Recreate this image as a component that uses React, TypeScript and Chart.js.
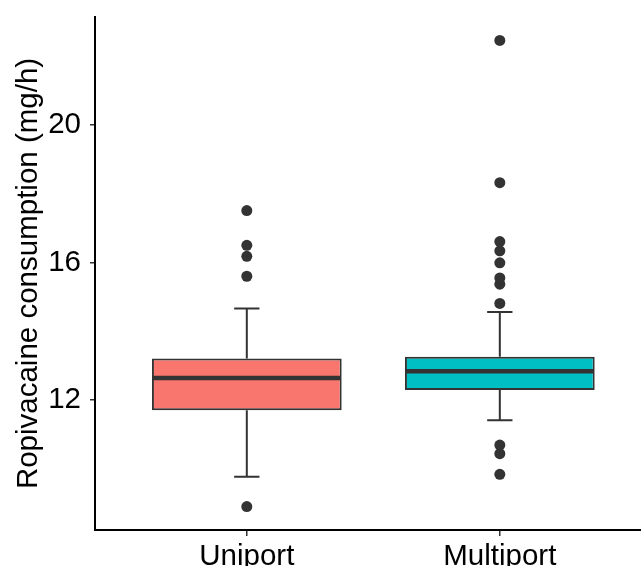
import React, { useEffect, useRef } from 'react';
import { Chart, registerables } from 'chart.js';

Chart.register(...registerables);

const categories = ['Uniport', 'Multiport'];
const positions = [1, 2];
const q1 = [11.70, 12.29];
const medians = [12.64, 12.84];
const q3 = [13.21, 13.26];
const whiskerLow = [9.77, 11.41];
const whiskerHigh = [14.66, 14.56];
const outliersUniport = [8.90, 15.60, 16.18, 16.50, 17.51];
const outliersMultiport = [9.84, 10.44, 10.69, 14.81, 15.37, 15.55, 15.99, 16.34, 16.61, 18.32, 22.46];
const yTicks = [12, 16, 20];
const fills = ['#F8766D', '#00BFC4'];
const yMin = 8.22;
const yMax = 23.14;
const xMin = 0.4;
const xMax = 2.558;

const FONT = "'Liberation Sans', Arial, sans-serif";
const INK = '#333333';

const boxPlugin = {
  id: 'boxParts',
  beforeDatasetsDraw(chart: any) {
    const { ctx, scales } = chart;
    const xs = scales.x;
    const ys = scales.y;
    ctx.save();
    ctx.strokeStyle = INK;
    ctx.lineWidth = 2;
    positions.forEach((p, i) => {
      const x = xs.getPixelForValue(p);
      const xl = xs.getPixelForValue(p - 0.05);
      const xr = xs.getPixelForValue(p + 0.05);
      const yHi = ys.getPixelForValue(whiskerHigh[i]);
      const yLo = ys.getPixelForValue(whiskerLow[i]);
      ctx.beginPath();
      ctx.moveTo(x, ys.getPixelForValue(q3[i]));
      ctx.lineTo(x, yHi);
      ctx.moveTo(xl, yHi);
      ctx.lineTo(xr, yHi);
      ctx.moveTo(x, ys.getPixelForValue(q1[i]));
      ctx.lineTo(x, yLo);
      ctx.moveTo(xl, yLo);
      ctx.lineTo(xr, yLo);
      ctx.stroke();
    });
    ctx.restore();
  },
  afterDatasetDraw(chart: any, args: any) {
    if (args.index !== 0) return;
    const { ctx, scales } = chart;
    const ys = scales.y;
    const meta = chart.getDatasetMeta(0);
    ctx.save();
    ctx.strokeStyle = INK;
    ctx.lineWidth = 4.5;
    meta.data.forEach((bar: any, i: number) => {
      const y = ys.getPixelForValue(medians[i]);
      ctx.beginPath();
      ctx.moveTo(bar.x - bar.width / 2 + 1, y);
      ctx.lineTo(bar.x + bar.width / 2 - 1, y);
      ctx.stroke();
    });
    ctx.restore();
  },
};

export default function App() {
  const ref = useRef<HTMLCanvasElement>(null);
  useEffect(() => {
    if (!ref.current) return;
    const chart = new Chart(ref.current, {
      type: 'bar',
      data: {
        datasets: [
          {
            type: 'bar',
            data: positions.map((p, i) => ({ x: p, y: [q1[i], q3[i]] })) as any,
            backgroundColor: fills,
            borderColor: INK,
            borderWidth: 2,
            borderSkipped: false,
            barPercentage: 0.75,
            categoryPercentage: 1,
          } as any,
          {
            type: 'scatter',
            data: [
              ...outliersUniport.map((v) => ({ x: positions[0], y: v })),
              ...outliersMultiport.map((v) => ({ x: positions[1], y: v })),
            ],
            backgroundColor: INK,
            borderColor: INK,
            borderWidth: 0,
            pointRadius: 5.5,
          } as any,
        ],
      },
      options: {
        animation: false,
        responsive: false,
        devicePixelRatio: 1,
        layout: { autoPadding: false, padding: { top: 17, right: 0, bottom: 0, left: 0 } },
        plugins: { legend: { display: false }, tooltip: { enabled: false } },
        scales: {
          x: {
            type: 'linear',
            offset: false,
            min: xMin,
            max: xMax,
            afterBuildTicks: (s: any) => {
              s.ticks = positions.map((v) => ({ value: v }));
            },
            afterFit: (s: any) => {
              s.height = 36;
              s.paddingLeft = 0;
              s.paddingRight = 0;
            },
            ticks: {
              callback: (v: any) => categories[positions.indexOf(Number(v))] ?? '',
              font: { family: FONT, size: 29.5 },
              color: '#000',
              padding: 3,
              maxRotation: 0,
              autoSkip: false,
            },
            grid: { offset: false, drawOnChartArea: false, drawTicks: true, tickLength: 6, color: INK, lineWidth: 1.5 },
            border: { display: true, color: '#000', width: 2 },
          },
          y: {
            type: 'linear',
            min: yMin,
            max: yMax,
            afterBuildTicks: (s: any) => {
              s.ticks = yTicks.map((v) => ({ value: v }));
            },
            afterFit: (s: any) => {
              s.width = 95;
              s.paddingTop = 0;
              s.paddingBottom = 0;
            },
            ticks: {
              font: { family: FONT, size: 29.5 },
              color: '#000',
              padding: 9,
            },
            grid: { drawOnChartArea: false, drawTicks: true, tickLength: 5, color: INK, lineWidth: 1.5 },
            border: { display: true, color: '#000', width: 2 },
            title: {
              display: true,
              text: 'Ropivacaine consumption (mg/h)',
              font: { family: FONT, size: 29.5 },
              color: '#000',
              padding: { top: 11, bottom: 0 },
            },
          },
        },
      },
      plugins: [boxPlugin],
    });
    return () => chart.destroy();
  }, []);
  return (
    <div style={{ position: 'fixed', left: 0, top: 0, width: 641, height: 566, background: '#fff' }}>
      <canvas ref={ref} width={641} height={566} style={{ display: 'block' }} />
    </div>
  );
}
